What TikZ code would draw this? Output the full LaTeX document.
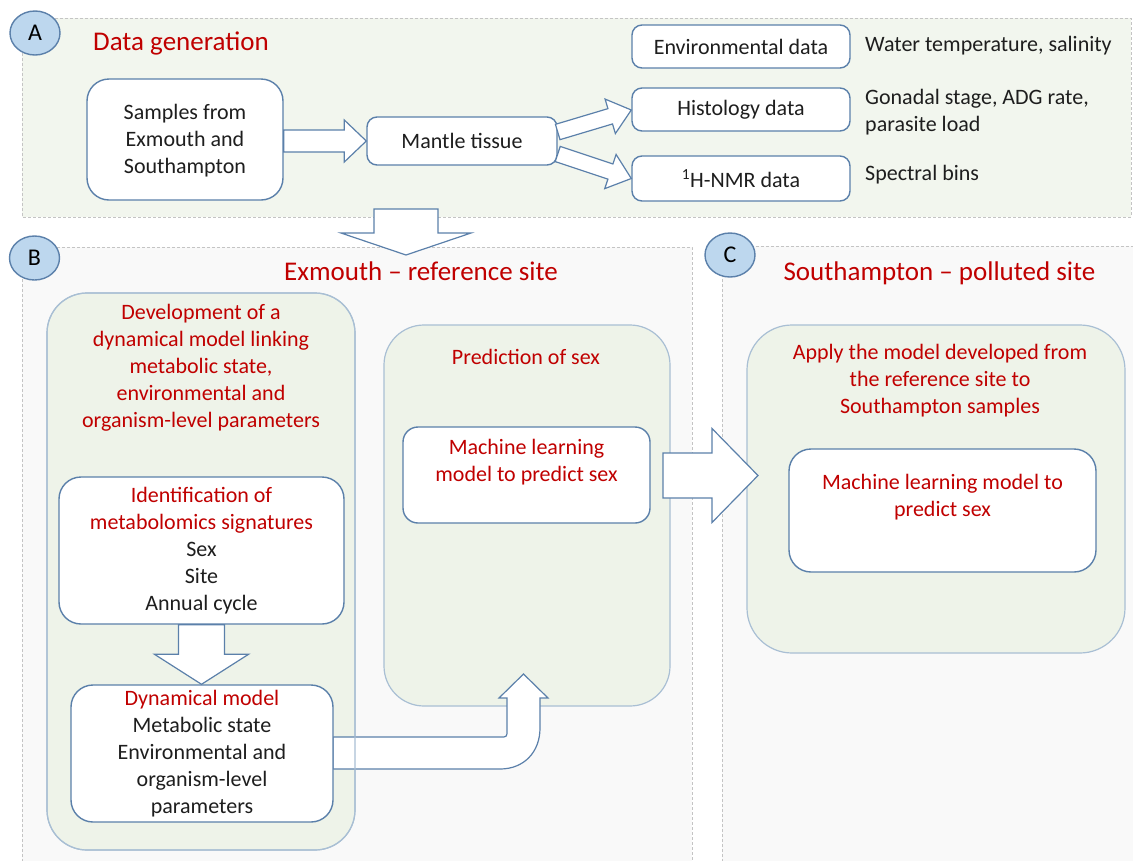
\documentclass[tikz,border=0pt]{standalone}
\usepackage{fontspec}
\setmainfont{Carlito}
\usetikzlibrary{calc,shapes.geometric}
\definecolor{redtxt}{HTML}{C00000}
\definecolor{txt}{HTML}{1E1E1E}
\definecolor{panelA}{HTML}{F2F6EE}
\definecolor{panelB}{HTML}{F9F9F9}
\definecolor{grpfill}{HTML}{EEF3E9}
\definecolor{grpline}{HTML}{A9BFD4}
\definecolor{boxline}{HTML}{5B80AA}
\definecolor{circfill}{HTML}{BDD7EE}
\definecolor{circline}{HTML}{5B80AA}
\definecolor{dashline}{HTML}{C4C4C4}
\newcommand{\myBlockArrow}[5]{%
  \coordinate (ba-t) at #1;
  \coordinate (ba-e) at #2;
  \coordinate (ba-h) at ($(ba-e)!#5!(ba-t)$);
  \draw[barrow] ($(ba-t)!#3!90:(ba-e)$) -- ($(ba-h)!#3!90:(ba-e)$) -- ($(ba-h)!#4!90:(ba-e)$)
    -- (ba-e) -- ($(ba-h)!#4!-90:(ba-e)$) -- ($(ba-h)!#3!-90:(ba-e)$) -- ($(ba-t)!#3!-90:(ba-e)$) -- cycle;
}
\begin{document}
\begin{tikzpicture}[x=1pt,y=-1pt,
  panel/.style={draw=dashline, line width=0.8pt, dash pattern=on 3pt off 2pt},
  wbox/.style={draw=boxline, line width=1.4pt, fill=white, rounded corners=12pt, inner sep=0pt},
  grp/.style={draw=grpline, line width=1.2pt, fill=grpfill, rounded corners=40pt, inner sep=0pt},
  body/.style={font=\fontsize{22}{27}\selectfont, text=txt, align=center, inner sep=0pt},
  rtext/.style={body, text=redtxt},
  title/.style={font=\fontsize{27}{32}\selectfont, text=redtxt, inner sep=0pt},
  letter/.style={ellipse, draw=circline, line width=1.4pt, fill=circfill, minimum width=50pt, minimum height=44pt, inner sep=0pt, font=\fontsize{24}{28}\selectfont, text=black},
  barrow/.style={draw=boxline, line width=1.2pt, fill=white, line join=miter}
]
\useasboundingbox (0,0) rectangle (1133,860);
\fill[white] (0,0) rectangle (1133,860);

% panels
\fill[panelA] (22,18) rectangle (1131,217);
\draw[panel] (22,18) rectangle (1131,217);
\fill[panelB] (22,247) rectangle (692,862);
\draw[panel] (22,862) -- (22,247) -- (692,247) -- (692,862);
\fill[panelB] (722,246) rectangle (1133,862);
\draw[panel] (722,862) -- (722,246) -- (1133,246);

\node[letter] (la) at (35,33) {A};
\node[letter] (lb) at (34.5,258) {B};
\node[letter] (lc) at (730,255) {C};

\node[title, anchor=west] (tA) at (93,43) {Data generation};
\node[title] (tB) at (421,271) {Exmouth – reference site};
\node[title] (tC) at (939.5,273) {Southampton – polluted site};

% panel A
\node[wbox, rounded corners=22pt, minimum width=196pt, minimum height=121pt] (samples) at (185,139.5) {};
\node[body] (samplest) at ($(samples.center)+(0,1)$) {Samples from\\Exmouth and\\Southampton};
\node[wbox, rounded corners=10pt, minimum width=190pt, minimum height=48pt] (mantle) at (462,141) {};
\node[body] (mantlet) at (mantle.center) {Mantle tissue};
\node[wbox, rounded corners=10pt, minimum width=218pt, minimum height=43pt] (env) at (741,46.5) {};
\node[body] (envt) at (env.center) {Environmental data};
\node[wbox, rounded corners=10pt, minimum width=218pt, minimum height=43pt] (hist) at (741,109.5) {};
\node[body] (histt) at (hist.center) {Histology data};
\node[wbox, rounded corners=10pt, minimum width=218pt, minimum height=45pt] (nmr) at (741,178.5) {};
\node[body] (nmrt) at (nmr.center) {\textsuperscript{1}H-NMR data};
\node[body, anchor=west] (envd) at (865,46) {Water temperature, salinity};
\node[body, anchor=west, align=left] (histd) at (865,112) {Gonadal stage, ADG rate,\\parasite load};
\node[body, anchor=west] (nmrd) at (865,175) {Spectral bins};

\myBlockArrow{(samples.east |- mantle.west)}{(mantle.west)}{11pt}{21pt}{22pt}
\myBlockArrow{($(mantle.east)+(0,-9)$)}{($(hist.west)+(0,0.5)$)}{8pt}{18pt}{22pt}
\myBlockArrow{($(mantle.east)+(0,13)$)}{(nmr.west)}{8pt}{18pt}{22pt}

% A -> B
\coordinate (abtail) at (406,209);
\coordinate (abtip) at (406,255);
\myBlockArrow{(abtail)}{(abtip)}{32pt}{65pt}{22pt}

% panel B groups
\node[grp, minimum width=308pt, minimum height=557pt] (devgrp) at (201,571.5) {};
\node[grp, minimum width=286pt, minimum height=381pt] (predgrp) at (527,515.5) {};
\node[rtext] (devt) at (201,367.5) {Development of a\\dynamical model linking\\metabolic state,\\environmental and\\organism-level parameters};
\node[rtext] (predt) at (526,357) {Prediction of sex};

% panel C group
\node[grp, rounded corners=45pt, minimum width=378pt, minimum height=328pt] (applygrp) at (936,489) {};
\node[rtext] (applyt) at (940,381) {Apply the model developed from\\the reference site to\\Southampton samples};

% bent arrow Dyn -> Prediction
\draw[barrow] (333,737) -- (500,737) .. controls (507,737) .. (507,730) -- (507,698) -- (499,698)
  -- (523.5,674) -- (548,698) -- (540,698) -- (540,728) .. controls (540,752) and (524,769) .. (500,769)
  -- (333,769) -- cycle;
\node[grp, fill=none, minimum width=308pt, minimum height=557pt] at (devgrp.center) {};

% B -> C
\coordinate (bctail) at (663,475.5);
\coordinate (bctip) at (758,475.5);
\myBlockArrow{(bctail)}{(bctip)}{22.5pt}{47pt}{46pt}

% Ident -> Dyn
\node[wbox, rounded corners=22pt, minimum width=285pt, minimum height=147pt] (ident) at (201.5,550.5) {};
\node[wbox, rounded corners=22pt, minimum width=262pt, minimum height=137pt] (dyn) at (202,753.5) {};
\myBlockArrow{(ident.south)}{(ident.south |- dyn.north)}{23pt}{47pt}{30pt}
\node[body] (identt) at (ident.center) {\textcolor{redtxt}{Identification of}\\\textcolor{redtxt}{metabolomics signatures}\\Sex\\Site\\Annual cycle};
\node[body] (dynt) at (dyn.center) {\textcolor{redtxt}{Dynamical model}\\Metabolic state\\Environmental and\\organism-level\\parameters};

% ML boxes
\node[wbox, rounded corners=15pt, minimum width=247pt, minimum height=96pt] (mlb) at (526.5,475) {};
\node[rtext] (mlbt) at (526.5,462) {Machine learning\\model to predict sex};
\node[wbox, rounded corners=22pt, minimum width=307pt, minimum height=123pt] (mlc) at (942.5,510.5) {};
\node[rtext] (mlct) at (942.5,497) {Machine learning model to\\predict sex};
\end{tikzpicture}
\end{document}
